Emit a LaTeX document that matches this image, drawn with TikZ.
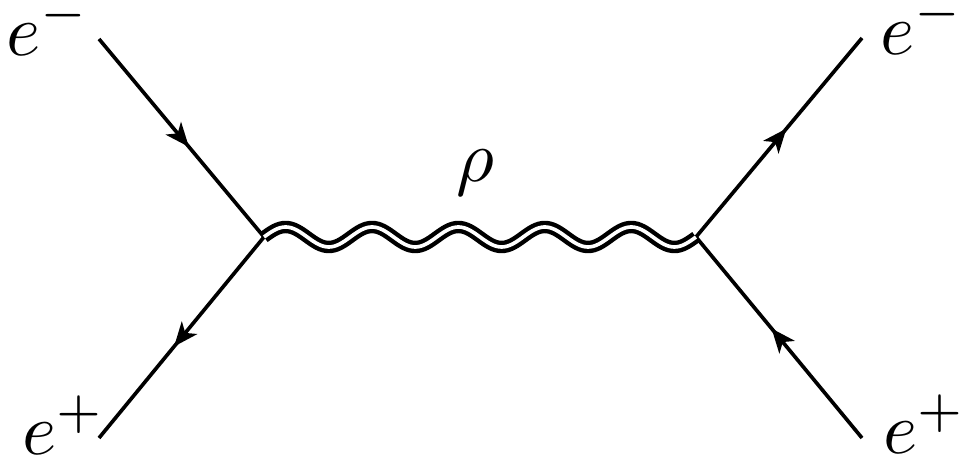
\documentclass[tikz,border=0pt]{standalone}
\usetikzlibrary{arrows.meta,decorations.markings}

\begin{document}
\begin{tikzpicture}[x=0.48cm, y=0.48cm,
    fermion/.style={line width=0.5pt, postaction={decorate},
      decoration={markings, mark=at position 0.5 with {\arrow[xshift=1.6pt]{Stealth[length=3.3pt,width=2.7pt,inset=0.9pt]}}}},
    photon/.style={double, double distance=0.5pt, line width=0.6pt},
    lbl/.style={anchor=base, inner sep=0pt}]
    \useasboundingbox (0,0) rectangle (9.67,-4.59);
    \coordinate (v1) at (2.64,-2.37);
    \coordinate (v2) at (6.96,-2.37);
    \coordinate (i1) at (0.99,-0.39);
    \coordinate (i2) at (0.99,-4.38);
    \coordinate (f1) at (8.62,-0.38);
    \coordinate (f2) at (8.62,-4.38);
    \node[lbl] (em1) at (0.485,-0.555) {$e^-$};
    \node[lbl] (ep1) at (0.635,-4.545) {$e^+$};
    \node[lbl] (em2) at (9.22,-0.545) {$e^-$};
    \node[lbl] (ep2) at (9.25,-4.535) {$e^+$};
    \node[lbl] (rho) at (4.75,-1.82) {$\rho$};
    \draw[fermion] (i1) -- (v1);
    \draw[fermion] (v1) -- (i2);
    \draw[fermion] (v2) -- (f1);
    \draw[fermion] (f2) -- (v2);
    \draw[photon, shift={(v1)}] plot[domain=0:4.32, samples=161, smooth]
      (\x, {0.1*sin(\x/0.864*360)});
  \end{tikzpicture}
\end{document}
